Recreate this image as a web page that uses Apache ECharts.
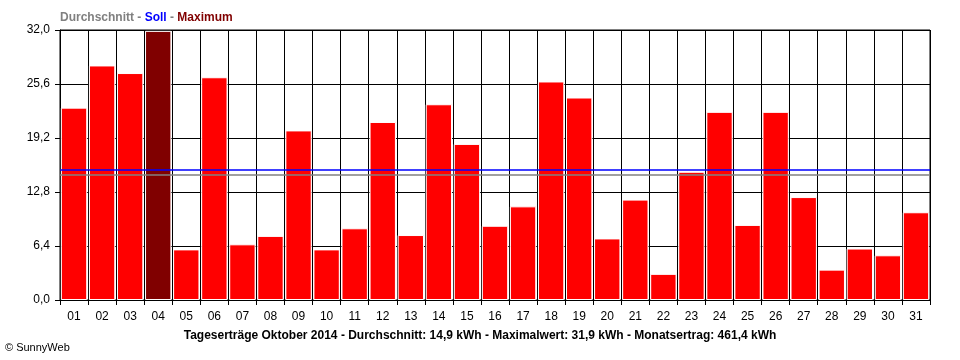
<!DOCTYPE html>
<html>
<head>
<meta charset="utf-8">
<script src="https://cdn.jsdelivr.net/npm/echarts@6/dist/echarts.min.js"></script>
<style>html,body{margin:0;padding:0;background:#fff}#c{width:960px;height:360px}</style>
</head>
<body>
<div id="c"></div>
<script>
var days = ['01','02','03','04','05','06','07','08','09','10','11','12','13','14','15','16','17','18','19','20','21','22','23','24','25','26','27','28','29','30','31'];
var yields = [22.8,27.8,26.9,31.9,6.0,26.4,6.6,7.6,20.1,6.0,8.5,21.1,7.7,23.2,18.5,8.8,11.1,25.9,24.0,7.3,11.9,3.1,15.2,22.3,8.9,22.3,12.2,3.6,6.1,5.3,10.4];
var average = 14.9;
var target = 15.4;
var maxValue = 31.9;
var monthTotal = 461.4;
var yTicks = [0, 6.4, 12.8, 19.2, 25.6, 32.0];

function fmt(v){ return v.toFixed(1).replace('.', ','); }

var barData = yields.map(function(v){
  return v === maxValue ? {value: v, itemStyle: {color: '#800000'}} : v;
});

var chart = echarts.init(document.getElementById('c'), null, {renderer: 'canvas'});
var font = 'Liberation Sans, Arial, sans-serif';
chart.setOption({
  animation: false,
  backgroundColor: '#ffffff',
  title: [{
    text: 'Tageserträge Oktober 2014 - Durchschnitt: ' + fmt(average) + ' kWh - Maximalwert: ' + fmt(maxValue) + ' kWh - Monatsertrag: ' + fmt(monthTotal) + ' kWh',
    left: 'center', top: 330, padding: 0,
    textStyle: {fontFamily: font, fontSize: 12, fontWeight: 'bold', color: '#000'}
  }, {
    text: '© SunnyWeb',
    left: 5, top: 342, padding: 0,
    textStyle: {fontFamily: font, fontSize: 11, fontWeight: 'normal', color: '#000'}
  }, {
    text: '{g|Durchschnitt}{d| - }{b|Soll}{d| - }{r|Maximum}',
    left: 60, top: 12, padding: 0,
    textStyle: {
      fontFamily: font, fontSize: 12, fontWeight: 'bold',
      rich: {
        g: {color: '#808080', fontFamily: font, fontSize: 12, fontWeight: 'bold'},
        d: {color: '#808080', fontFamily: font, fontSize: 12, fontWeight: 'bold'},
        b: {color: '#0000ff', fontFamily: font, fontSize: 12, fontWeight: 'bold'},
        r: {color: '#800000', fontFamily: font, fontSize: 12, fontWeight: 'bold'}
      }
    }
  }],
  grid: {left: 60, right: 30, top: 30, bottom: 60, show: true, borderColor: '#000', borderWidth: 1, backgroundColor: '#fff'},
  xAxis: {
    type: 'category',
    data: days,
    boundaryGap: true,
    axisLine: {show: true, lineStyle: {color: '#000', width: 1}},
    axisTick: {show: true, interval: 0, length: 5, lineStyle: {color: '#000'}},
    axisLabel: {interval: 0, color: '#000', fontFamily: font, fontSize: 12, margin: 11},
    splitLine: {show: true, interval: 0, lineStyle: {color: '#000', width: 1}}
  },
  yAxis: {
    type: 'value',
    min: 0, max: 32, interval: 6.4,
    axisLine: {show: true, lineStyle: {color: '#000', width: 1}},
    axisTick: {show: true, length: 5, lineStyle: {color: '#000'}},
    axisLabel: {color: '#000', fontFamily: font, fontSize: 12, margin: 10, formatter: function(v){ return fmt(v); }},
    splitLine: {show: true, lineStyle: {color: '#000', width: 1}}
  },
  series: [{
    type: 'bar',
    data: barData,
    barCategoryGap: '6%',
    itemStyle: {color: '#ff0000', borderColor: '#ffffff', borderWidth: 1},
    z: 3,
    markLine: {
      silent: true,
      symbol: 'none',
      label: {show: false},
      data: [
        {yAxis: target, lineStyle: {color: '#0000ff', width: 1.5, type: 'solid'}},
        {yAxis: average, lineStyle: {color: '#808080', width: 1.5, type: 'solid'}}
      ]
    }
  }]
});
</script>
</body>
</html>
